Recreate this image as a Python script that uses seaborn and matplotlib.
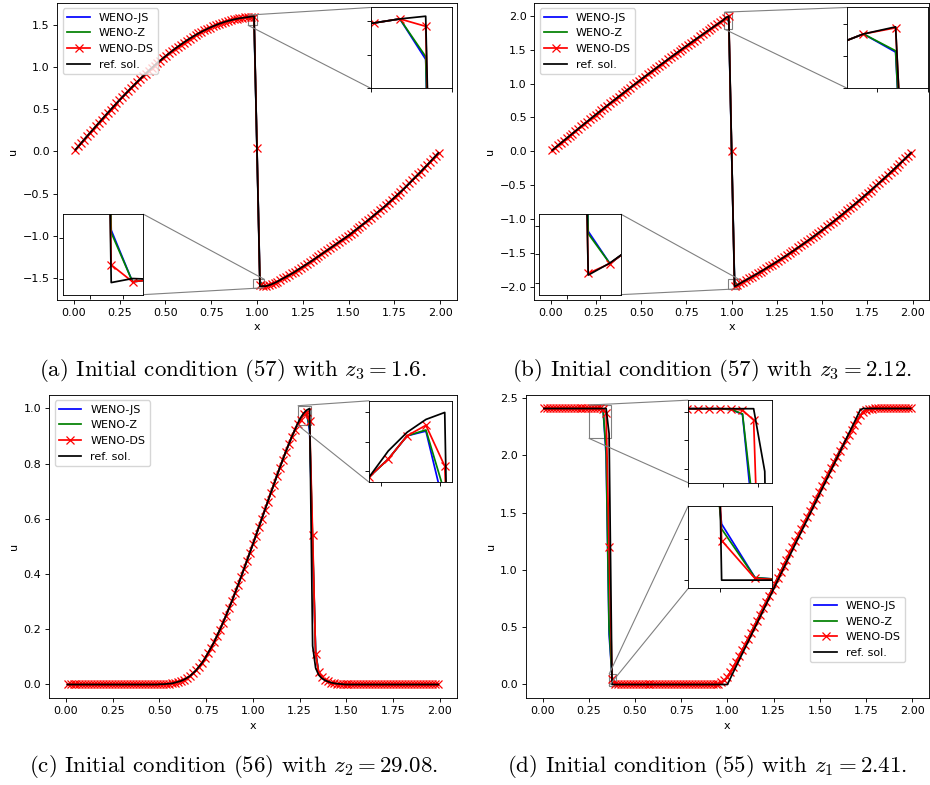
import numpy as np
import matplotlib
matplotlib.use("Agg")
import matplotlib.pyplot as plt
from matplotlib.ticker import MultipleLocator
from mpl_toolkits.axes_grid1.inset_locator import mark_inset
import seaborn as sns

# cell centres, dx = 0.016 on [0, 2]
x = np.linspace(0.008, 1.992, 125)

# ---- (a) initial condition (57), z3 = 1.6 ----
ds_a = [
    0.020, 0.060, 0.100, 0.141, 0.181, 0.221, 0.260, 0.300, 0.339, 0.378,
    0.417, 0.456, 0.494, 0.533, 0.570, 0.608, 0.645, 0.681, 0.717, 0.753,
    0.788, 0.823, 0.857, 0.891, 0.924, 0.957, 0.989, 1.020, 1.051, 1.080,
    1.110, 1.138, 1.166, 1.193, 1.220, 1.245, 1.270, 1.294, 1.318, 1.340,
    1.362, 1.383, 1.402, 1.421, 1.439, 1.456, 1.472, 1.488, 1.502, 1.516,
    1.528, 1.540, 1.550, 1.559, 1.568, 1.575, 1.582, 1.587, 1.592, 1.597,
    1.603, 1.592, 0.040, -1.583, -1.604, -1.601, -1.591, -1.578, -1.563, -1.546,
    -1.526, -1.507, -1.488, -1.469, -1.450, -1.429, -1.406, -1.384, -1.362, -1.339,
    -1.317, -1.294, -1.270, -1.246, -1.222, -1.198, -1.174, -1.150, -1.126, -1.102,
    -1.078, -1.054, -1.030, -1.006, -0.980, -0.952, -0.925, -0.898, -0.871, -0.844,
    -0.816, -0.787, -0.758, -0.729, -0.700, -0.672, -0.642, -0.610, -0.578, -0.546,
    -0.514, -0.482, -0.450, -0.415, -0.380, -0.344, -0.309, -0.274, -0.239, -0.202,
    -0.166, -0.129, -0.092, -0.055, -0.018]
shock_idx_a = [61, 62, 63]
js_a = [1.543, 0.020, -1.540]
z_a = [1.547, 0.030, -1.543]
ref_idx_a = [60, 61, 62, 63, 64]
ref_a = [1.603, 1.607, 0.000, -1.605, -1.600]

# ---- (b) initial condition (57), z3 = 2.12 ----
ds_b = [
    0.018, 0.053, 0.089, 0.124, 0.159, 0.194, 0.229, 0.264, 0.299, 0.334,
    0.368, 0.403, 0.437, 0.471, 0.506, 0.540, 0.573, 0.607, 0.641, 0.675,
    0.708, 0.741, 0.775, 0.808, 0.841, 0.874, 0.907, 0.939, 0.972, 1.004,
    1.037, 1.069, 1.101, 1.133, 1.165, 1.197, 1.229, 1.261, 1.292, 1.323,
    1.355, 1.386, 1.417, 1.448, 1.479, 1.510, 1.540, 1.571, 1.601, 1.632,
    1.662, 1.692, 1.722, 1.752, 1.782, 1.811, 1.841, 1.870, 1.900, 1.929,
    1.968, 1.987, 0.010, -1.983, -1.966, -1.938, -1.914, -1.891, -1.867, -1.843,
    -1.818, -1.794, -1.768, -1.743, -1.717, -1.691, -1.665, -1.638, -1.611, -1.584,
    -1.556, -1.528, -1.499, -1.471, -1.442, -1.412, -1.383, -1.353, -1.323, -1.292,
    -1.261, -1.230, -1.198, -1.167, -1.134, -1.102, -1.069, -1.036, -1.002, -0.969,
    -0.935, -0.900, -0.865, -0.830, -0.795, -0.759, -0.723, -0.687, -0.650, -0.613,
    -0.576, -0.538, -0.500, -0.462, -0.423, -0.384, -0.345, -0.305, -0.266, -0.225,
    -0.185, -0.144, -0.103, -0.061, -0.019]
shock_idx_b = [61, 62, 63]
js_b = [1.912, -0.020, -1.910]
z_b = [1.916, 0.000, -1.914]
ref_idx_b = [61, 62, 63, 64]
ref_b = [1.990, 0.000, -1.986, -1.965]

# ---- (c) initial condition (56), z2 = 29.08 ----
ds_c = [
    0.0, 0.0, 0.0, 0.0, 0.0, 0.0, 0.0, 0.0, 0.0, 0.0,
    0.0, 0.0, 0.0, 0.0, 0.0, 0.0, 0.0, 0.0, 0.0, 0.0,
    0.0, 0.0, 0.0, 0.0, 0.0, 0.0, 0.0, 0.0, 0.0, 0.0,
    0.0, 0.001, 0.001, 0.002, 0.003, 0.004, 0.007, 0.010, 0.013, 0.018,
    0.024, 0.031, 0.041, 0.051, 0.065, 0.078, 0.095, 0.114, 0.133, 0.153,
    0.176, 0.199, 0.224, 0.249, 0.276, 0.302, 0.331, 0.359, 0.388, 0.418,
    0.448, 0.478, 0.508, 0.539, 0.570, 0.601, 0.632, 0.663, 0.694, 0.724,
    0.755, 0.785, 0.814, 0.843, 0.870, 0.897, 0.921, 0.945, 0.960, 0.980,
    0.989, 0.954, 0.543, 0.109, 0.045, 0.027, 0.017, 0.011, 0.007, 0.005,
    0.003, 0.002, 0.001, 0.0, 0.0, 0.0, 0.0, 0.0, 0.0, 0.0,
    0.0, 0.0, 0.0, 0.0, 0.0, 0.0, 0.0, 0.0, 0.0, 0.0,
    0.0, 0.0, 0.0, 0.0, 0.0, 0.0, 0.0, 0.0, 0.0, 0.0,
    0.0, 0.0, 0.0, 0.0, 0.0]
shock_idx_c = [80, 81, 82, 83]
js_c = [0.984, 0.917, 0.500, 0.120]
z_c = [0.985, 0.931, 0.520, 0.115]
ref_idx_c = list(range(78, 93))
ref_c = [0.967, 0.983, 0.994, 1.000, 0.140, 0.060, 0.035, 0.023, 0.016,
         0.011, 0.007, 0.005, 0.003, 0.002, 0.001]

# ---- (d) initial condition (55), z1 = 2.41 ----
ds_d = [
    2.41, 2.41, 2.41, 2.41, 2.41, 2.41, 2.41, 2.41, 2.41, 2.41,
    2.41, 2.41, 2.41, 2.41, 2.41, 2.41, 2.41, 2.41, 2.41, 2.41,
    2.405, 2.370, 1.200, 0.048, 0.002, 0.0, 0.0, 0.0, 0.0, 0.0,
    0.0, 0.0, 0.0, 0.0, 0.0, 0.0, 0.0, 0.0, 0.0, 0.0,
    0.0, 0.0, 0.0, 0.0, 0.0, 0.0, 0.0, 0.0, 0.0, 0.0,
    0.0, 0.0, 0.0, 0.0, 0.0, 0.0, 0.0, 0.0, 0.003, 0.008,
    0.018, 0.035, 0.065, 0.105, 0.150, 0.198, 0.248, 0.297, 0.348, 0.399,
    0.452, 0.505, 0.558, 0.611, 0.664, 0.717, 0.771, 0.824, 0.877, 0.931,
    0.984, 1.037, 1.091, 1.144, 1.197, 1.251, 1.304, 1.357, 1.411, 1.464,
    1.517, 1.571, 1.624, 1.678, 1.731, 1.784, 1.837, 1.890, 1.942, 1.990,
    2.040, 2.088, 2.135, 2.180, 2.224, 2.268, 2.310, 2.350, 2.383, 2.400,
    2.407, 2.409, 2.410, 2.41, 2.41, 2.41, 2.41, 2.41, 2.41, 2.41,
    2.41, 2.41, 2.41, 2.41, 2.41]
shock_idx_d = [19, 20, 21, 22, 23, 24]
js_d = [2.407, 2.390, 2.000, 0.440, 0.068, 0.003]
z_d = [2.407, 2.392, 2.050, 0.500, 0.062, 0.003]
ref_d = [
    2.41, 2.41, 2.41, 2.41, 2.41, 2.41, 2.41, 2.41, 2.41, 2.41,
    2.41, 2.41, 2.41, 2.41, 2.41, 2.41, 2.41, 2.41, 2.41, 2.41,
    2.41, 2.41, 2.19, 0.0, 0.0, 0.0, 0.0, 0.0, 0.0, 0.0,
    0.0, 0.0, 0.0, 0.0, 0.0, 0.0, 0.0, 0.0, 0.0, 0.0,
    0.0, 0.0, 0.0, 0.0, 0.0, 0.0, 0.0, 0.0, 0.0, 0.0,
    0.0, 0.0, 0.0, 0.0, 0.0, 0.0, 0.0, 0.0, 0.0, 0.0,
    0.0, 0.0, 0.0, 0.053, 0.107, 0.160, 0.213, 0.267, 0.320, 0.373,
    0.427, 0.480, 0.533, 0.587, 0.640, 0.693, 0.747, 0.800, 0.853, 0.907,
    0.960, 1.013, 1.067, 1.120, 1.173, 1.227, 1.280, 1.333, 1.387, 1.440,
    1.493, 1.547, 1.600, 1.653, 1.707, 1.760, 1.813, 1.867, 1.920, 1.973,
    2.027, 2.080, 2.133, 2.187, 2.240, 2.293, 2.347, 2.400, 2.41, 2.41,
    2.41, 2.41, 2.41, 2.41, 2.41, 2.41, 2.41, 2.41, 2.41, 2.41,
    2.41, 2.41, 2.41, 2.41, 2.41]

captions = [
    "(a) Initial condition (57) with $z_3 = 1.6$.",
    "(b) Initial condition (57) with $z_3 = 2.12$.",
    "(c) Initial condition (56) with $z_2 = 29.08$.",
    "(d) Initial condition (55) with $z_1 = 2.41$.",
]


def build(ds, idx, js, z, ref_idx=None, ref=None, ref_full=None):
    u_ds = np.asarray(ds, dtype=float)
    u_js = u_ds.copy()
    u_js[idx] = js
    u_z = u_ds.copy()
    u_z[idx] = z
    if ref_full is not None:
        u_ref = np.asarray(ref_full, dtype=float)
    else:
        u_ref = u_ds.copy()
        u_ref[ref_idx] = ref
    return u_js, u_z, u_ds, u_ref


def draw(ax, series, labels=True):
    u_js, u_z, u_ds, u_ref = series
    kw = dict(ax=ax, estimator=None, legend=False, linewidth=1.25)
    sns.lineplot(x=x, y=u_js, color="blue", label="WENO-JS" if labels else None, **kw)
    sns.lineplot(x=x, y=u_z, color="green", label="WENO-Z" if labels else None, **kw)
    sns.lineplot(x=x, y=u_ds, color="red", marker="x", markersize=5.4,
                 markeredgecolor="red", markeredgewidth=0.9,
                 label="WENO-DS" if labels else None, **kw)
    sns.lineplot(x=x, y=u_ref, color="black", label="ref. sol." if labels else None, **kw)


plt.rcParams.update({
    "font.size": 8.05,
    "axes.linewidth": 0.64,
    "xtick.major.size": 2.8, "ytick.major.size": 2.8,
    "xtick.major.width": 0.64, "ytick.major.width": 0.64,
    "xtick.major.pad": 2.8, "ytick.major.pad": 2.8,
    "axes.labelpad": 3.2,
    "legend.fontsize": 8.05,
    "mathtext.fontset": "cm",
})

series = [
    build(ds_a, shock_idx_a, js_a, z_a, ref_idx_a, ref_a),
    build(ds_b, shock_idx_b, js_b, z_b, ref_idx_b, ref_b),
    build(ds_c, shock_idx_c, js_c, z_c, ref_idx_c, ref_c),
    build(ds_d, shock_idx_d, js_d, z_d, ref_full=ref_d),
]

W, H = 930, 785
# axes boxes in pixels: left, top, right, bottom
boxes = [(57.3, 2.7, 456.7, 300.0), (534.3, 2.7, 929.0, 300.0),
         (49.0, 394.7, 456.7, 698.3), (525.7, 394.7, 929.0, 698.3)]
# inset specs: bounds (axes fraction), xlim, ylim, x tick step, y tick step, connector corners
insets = [
    [([0.785, 0.712, 0.202, 0.272], (0.95, 1.00), (1.50, 1.62), 0.05, 0.05, (2, 3)),
     ([0.015, 0.018, 0.200, 0.271], (0.98, 1.04), (-1.62, -1.52), 0.025, 0.05, (1, 4))],
    [([0.793, 0.712, 0.204, 0.272], (0.96, 1.00), (1.80, 2.05), 0.025, 0.1, (2, 3)),
     ([0.013, 0.018, 0.206, 0.271], (0.98, 1.04), (-2.02, -1.88), 0.025, 0.05, (1, 4))],
    [([0.786, 0.711, 0.202, 0.269], (1.24, 1.31), (0.94, 1.01), 0.05, 0.025, (2, 3))],
    [([0.403, 0.710, 0.207, 0.272], (0.25, 0.37), (2.15, 2.44), 0.05, 0.1, (2, 3)),
     ([0.403, 0.362, 0.207, 0.272], (0.36, 0.40), (-0.01, 0.09), 0.025, 0.05, (2, 3))],
]
caption_pos = [(233, 370), (712, 370), (234, 767), (707, 767)]

fig = plt.figure(figsize=(W / 100, H / 100), dpi=100)

for k in range(4):
    l, t, r, b = boxes[k]
    ax = fig.add_axes([l / W, 1 - b / H, (r - l) / W, (b - t) / H])
    draw(ax, series[k])
    ax.set_xlabel("x")
    ax.set_ylabel("u")
    ax.set_xticks([0.0, 0.25, 0.5, 0.75, 1.0, 1.25, 1.5, 1.75, 2.0])
    if k == 3:
        ax.legend(loc="lower right", bbox_to_anchor=(0.955, 0.10))
    else:
        ax.legend(loc="upper left")

    for bounds, xl, yl, xs, ys, (c1, c2) in insets[k]:
        axins = ax.inset_axes(bounds)
        draw(axins, series[k], labels=False)
        axins.set_xlim(*xl)
        axins.set_ylim(*yl)
        axins.xaxis.set_major_locator(MultipleLocator(xs))
        axins.yaxis.set_major_locator(MultipleLocator(ys))
        axins.tick_params(labelleft=False, labelbottom=False)
        axins.set_xlabel("")
        axins.set_ylabel("")
        mark_inset(ax, axins, loc1=c1, loc2=c2, ec="0.5", lw=0.8)

    cx, cy = caption_pos[k]
    fig.text(cx / W, 1 - cy / H, captions[k], ha="center", va="center",
             fontsize=16.5, family="cmr10")

fig.savefig("out.png", dpi=100)
